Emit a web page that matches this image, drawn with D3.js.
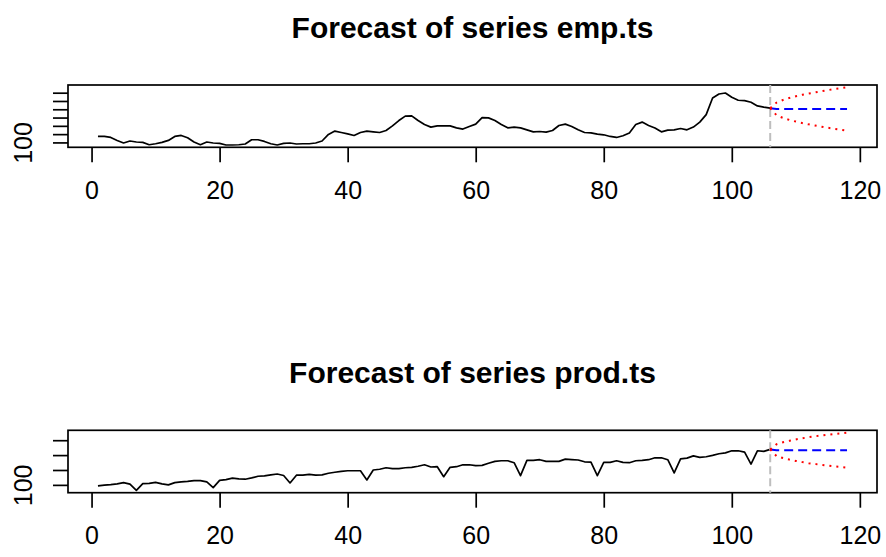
<!DOCTYPE html>
<meta charset="utf-8">
<style>
body { margin: 0; background: #fff; }
text { font-family: "Liberation Sans", Arial, Helvetica, sans-serif; fill: #000; }
.title { font-size: 30px; font-weight: bold; }
.tick text { font-size: 25px; }
</style>
<body>
<script src="https://cdn.jsdelivr.net/npm/d3@7/dist/d3.min.js"></script>
<script>
// observed series (t = 1..106)
const empValues = [
  172,172,160,124,93,117,105,100,72,84,
  100,124,172,184,156,105,72,105,93,88,
  69,69,72,81,132,132,112,84,69,88,
  93,81,84,84,93,117,196,237,220,204,
  184,220,237,228,220,244,300,364,417,420,
  364,316,285,300,300,300,276,261,292,321,
  400,396,364,316,276,285,276,252,228,232,
  225,244,304,321,292,252,220,216,201,192,
  172,160,180,213,316,345,304,273,228,249,
  252,268,252,285,345,436,636,684,696,645,
  609,604,585,540,525,513
];
const prodValues = [
  93,98,102,107,115,105,63,108,110,117,
  107,100,115,120,123,129,129,120,82,130,
  135,145,140,138,147,158,160,167,173,163,
  113,165,165,171,165,167,178,185,191,195,
  195,195,133,200,205,215,209,209,215,218,
  225,235,220,222,155,218,222,235,235,229,
  231,245,258,262,262,249,162,265,265,269,
  258,258,258,273,270,267,255,253,162,251,
  251,262,251,249,262,265,269,282,282,269,
  180,275,280,295,285,289,298,309,315,329,
  329,320,240,329,325,338
];

// 12-step forecasts
const empMean  = [504,504,504,504,504,504,504,504,504,504,504,504];
const empUpper = [581,612,637,656,674,690,704,718,731,743,754,765];
const empLower = [427,396,371,352,334,318,304,290,277,265,254,243];
const prodMean  = [333,333,333,333,333,333,333,333,333,333,333,333];
const prodUpper = [373,386,396,405,413,420,426,432,437,442,446,451];
const prodLower = [293,280,270,261,253,246,240,234,229,224,220,215];

const xTicks = [0,20,40,60,80,100,120];
const empYTicks = [100,200,300,400,500,600,700];
const empYLabels = ["100","","","","","",""];
const prodYTicks = [100,200,300,400];
const prodYLabels = ["100","","",""];

const width = 886, height = 557;
const svg = d3.select("body").append("svg")
  .attr("width", width)
  .attr("height", height);

function drawPanel(o) {
  const g = svg.append("g");
  const n = o.values.length, nf = o.mean.length;
  const all = o.values.concat(o.upper, o.lower);
  const lo = d3.min(all), hi = d3.max(all), pad = (hi - lo) * 0.04;
  const xpad = (n + nf - 1) * 0.04;

  const x = d3.scaleLinear().domain([1 - xpad, n + nf + xpad]).range([68, 877]);
  const y = d3.scaleLinear().domain([lo - pad, hi + pad]).range([o.bottom, o.top]);

  const line = d3.line()
    .x(function (d) { return x(d[0]); })
    .y(function (d) { return y(d[1]); });

  // observed
  g.append("path")
    .datum(o.values.map(function (v, i) { return [i + 1, v]; }))
    .attr("d", line)
    .attr("fill", "none")
    .attr("stroke", "#000")
    .attr("stroke-width", 1.7)
    .attr("stroke-linejoin", "round");

  // box
  g.append("rect")
    .attr("x", 68).attr("y", o.top)
    .attr("width", 877 - 68).attr("height", o.bottom - o.top)
    .attr("fill", "none")
    .attr("stroke", "#000")
    .attr("stroke-width", 1.7);

  // x axis
  const xa = g.append("g")
    .attr("transform", "translate(0," + o.bottom + ")")
    .call(d3.axisBottom(x).tickValues(xTicks).tickSize(15).tickSizeOuter(0).tickPadding(19));
  xa.select(".domain").remove();
  xa.selectAll(".tick line").attr("stroke-width", 1.7);
  xa.selectAll(".tick text").attr("font-family", null).attr("font-size", null);

  // y axis
  const ya = g.append("g")
    .attr("transform", "translate(68,0)")
    .call(d3.axisLeft(y).tickValues(o.yTicks).tickSize(15)
      .tickFormat(function (d, i) { return o.yLabels[i]; }));
  ya.select(".domain").remove();
  ya.selectAll(".tick line").attr("stroke-width", 1.7);
  ya.selectAll(".tick text")
    .attr("font-family", null).attr("font-size", null)
    .attr("x", 0).attr("dy", 0)
    .attr("text-anchor", "middle")
    .attr("transform", "translate(-36,0) rotate(-90)");

  // split marker
  g.append("line")
    .attr("x1", x(n)).attr("x2", x(n))
    .attr("y1", o.top).attr("y2", o.bottom)
    .attr("stroke", "#bebebe")
    .attr("stroke-width", 2)
    .attr("stroke-dasharray", "8,4");

  const last = [n, o.values[n - 1]];
  function fc(arr) {
    return [last].concat(arr.map(function (v, i) { return [n + i + 1, v]; }));
  }

  g.append("path")
    .datum(fc(o.mean))
    .attr("d", line)
    .attr("fill", "none")
    .attr("stroke", "#0000ff")
    .attr("stroke-width", 2)
    .attr("stroke-dasharray", "9,5");

  [o.upper, o.lower].forEach(function (s) {
    g.append("path")
      .datum(fc(s))
      .attr("d", line)
      .attr("fill", "none")
      .attr("stroke", "#ff0000")
      .attr("stroke-width", 2)
      .attr("stroke-dasharray", "2,5");
  });

  g.append("text")
    .attr("class", "title")
    .attr("x", (68 + 877) / 2)
    .attr("y", o.titleY)
    .attr("text-anchor", "middle")
    .text(o.title);
}

drawPanel({
  title: "Forecast of series emp.ts",
  titleY: 38, top: 85, bottom: 147.3,
  values: empValues, mean: empMean, upper: empUpper, lower: empLower,
  yTicks: empYTicks, yLabels: empYLabels
});
drawPanel({
  title: "Forecast of series prod.ts",
  titleY: 383, top: 430.3, bottom: 492.7,
  values: prodValues, mean: prodMean, upper: prodUpper, lower: prodLower,
  yTicks: prodYTicks, yLabels: prodYLabels
});
</script>
</body>
